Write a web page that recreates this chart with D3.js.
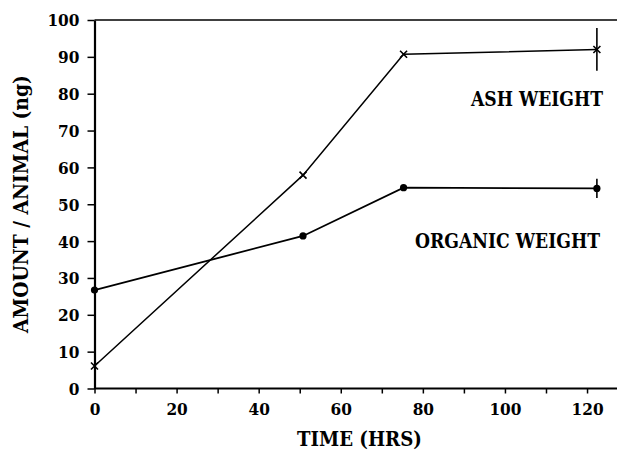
<!DOCTYPE html>
<html>
<head>
<meta charset="utf-8">
<script src="https://cdn.jsdelivr.net/npm/d3@7"></script>
<style>
  html, body { margin: 0; padding: 0; background: #fff; }
  svg { display: block; }
  text { font-family: "DejaVu Serif", "Liberation Serif", serif; font-weight: bold; fill: #000; }
</style>
</head>
<body>
<svg id="chart" width="617" height="452"></svg>
<script>
// ---- data ----
const timeHrs = [0, 50.8, 75.3, 122.4];
const ashWeight = [6.1, 57.9, 90.7, 92.0];
const organicWeight = [26.7, 41.4, 54.5, 54.3];
const ashErr = [0, 0, 0, 5.8];
const organicErr = [0, 0, 0, 2.6];
const xTicks = [0, 10, 20, 30, 40, 50, 60, 70, 80, 90, 100, 110, 120];
const xTickLabels = [0, 20, 40, 60, 80, 100, 120];
const yTicks = [0, 10, 20, 30, 40, 50, 60, 70, 80, 90, 100];
const seriesLabels = ["ASH WEIGHT", "ORGANIC WEIGHT"];
const xTitle = "TIME (HRS)";
const yTitle = "AMOUNT / ANIMAL (ng)";

const svg = d3.select("#chart");
const x = d3.scaleLinear().domain([0, 127.3]).range([94.5, 617]);
const y = d3.scaleLinear().domain([0, 100]).range([388.5, 20]);

// top border
svg.append("line").attr("x1", x(0)).attr("x2", 617).attr("y1", y(100)).attr("y2", y(100))
  .attr("stroke", "#000").attr("stroke-width", 1.6);

// x axis
const xAxis = d3.axisBottom(x).tickValues(xTicks).tickSize(5).tickSizeOuter(0)
  .tickFormat(d => xTickLabels.includes(d) ? d : "");
const gx = svg.append("g").attr("transform", `translate(0,${y(0)})`).call(xAxis);
gx.select(".domain").attr("d", `M${x(0)},0H617`).attr("stroke-width", 2);
gx.selectAll(".tick line").attr("stroke-width", 1.5);

// y axis
const yAxis = d3.axisLeft(y).tickValues(yTicks).tickSize(7).tickSizeOuter(0);
const gy = svg.append("g").attr("transform", `translate(${x(0)},0)`).call(yAxis);
gy.select(".domain").attr("stroke-width", 2.2);
gy.selectAll(".tick line").attr("stroke-width", 1.5);

svg.selectAll(".tick text")
  .style("font-family", '"DejaVu Serif", "Liberation Serif", serif')
  .style("font-weight", "bold").attr("font-size", 16.5);

// stretch tick labels horizontally to the reference digit width
const digitW = 10.7;
gx.selectAll(".tick text").each(function () {
  const t = d3.select(this);
  const n = t.text().length;
  if (!n) return;
  const w = this.getComputedTextLength();
  const sx = (digitW * n) / w;
  t.attr("y", null).attr("dy", null)
   .attr("transform", `translate(0,26.5) scale(${sx},1)`);
});
gy.selectAll(".tick text").each(function () {
  const t = d3.select(this);
  const n = t.text().length;
  const w = this.getComputedTextLength();
  const sx = (digitW * n) / w;
  t.attr("x", null).attr("dy", "0.36em")
   .attr("transform", `translate(-15,0) scale(${sx},1)`);
});

// lines
const line = d3.line().x((d, i) => x(timeHrs[i])).y(d => y(d));
svg.append("path").datum(ashWeight).attr("d", line)
  .attr("fill", "none").attr("stroke", "#000").attr("stroke-width", 1.5);
svg.append("path").datum(organicWeight).attr("d", line)
  .attr("fill", "none").attr("stroke", "#000").attr("stroke-width", 1.8);

// error bars
function errBars(vals, errs) {
  const idx = d3.range(vals.length).filter(i => errs[i] > 0);
  svg.append("g").selectAll("line").data(idx).join("line")
    .attr("x1", i => x(timeHrs[i])).attr("x2", i => x(timeHrs[i]))
    .attr("y1", i => y(vals[i] + errs[i])).attr("y2", i => y(vals[i] - errs[i]))
    .attr("stroke", "#000").attr("stroke-width", 1.6);
}
errBars(ashWeight, ashErr);
errBars(organicWeight, organicErr);

// markers
const s = 3.5;
svg.append("g").selectAll("path").data(ashWeight).join("path")
  .attr("d", (d, i) => {
    const cx = x(timeHrs[i]), cy = y(d);
    return `M${cx - s},${cy - s}L${cx + s},${cy + s}M${cx - s},${cy + s}L${cx + s},${cy - s}`;
  })
  .attr("stroke", "#000").attr("stroke-width", 1.6).attr("fill", "none");
svg.append("g").selectAll("circle").data(organicWeight).join("circle")
  .attr("cx", (d, i) => x(timeHrs[i])).attr("cy", d => y(d)).attr("r", 3.6).attr("fill", "#000");

// fitted text helper: place text so it spans targetW at (x0, baseline), optional rotation
function fitText(str, x0, y0, targetW, rot) {
  const t = svg.append("text").attr("font-size", 20).text(str);
  const w = t.node().getComputedTextLength();
  const sx = targetW / w;
  t.attr("transform", `translate(${x0},${y0})${rot ? ` rotate(${rot})` : ""} scale(${sx},1.05)`);
  return t;
}
fitText(seriesLabels[0], 471, 106, 132);
fitText(seriesLabels[1], 415, 248, 185);
fitText(xTitle, 297, 446, 125);
fitText(yTitle, 28, 333, 258, -90);
</script>
</body>
</html>
